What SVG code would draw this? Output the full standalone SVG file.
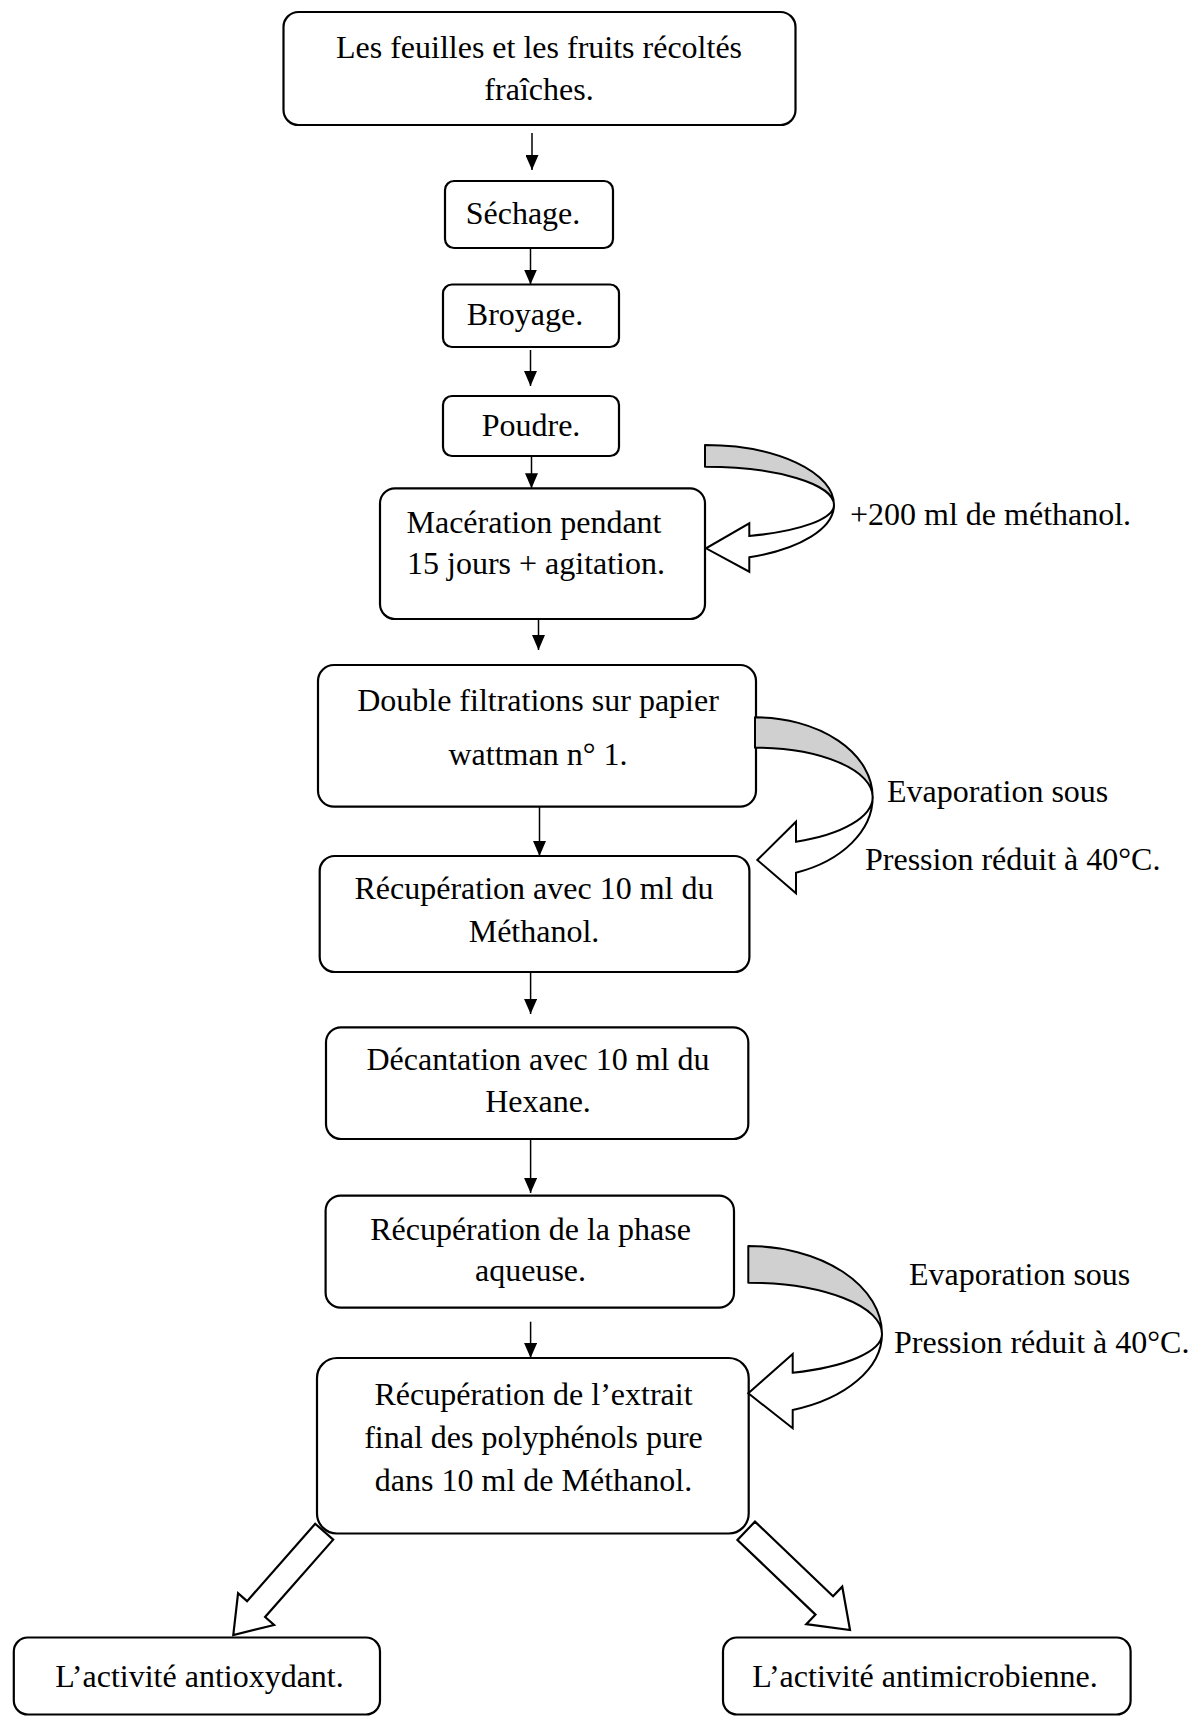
<svg xmlns="http://www.w3.org/2000/svg" width="1198" height="1716" viewBox="0 0 1198 1716">
<defs>
<style>
.box{fill:#fff;stroke:#000;stroke-width:2.2}
.t{font-family:"Liberation Serif","Times New Roman",serif;font-size:32px;fill:#000}
.m{text-anchor:middle}
.ln{stroke:#000;stroke-width:1.5;fill:none;marker-end:url(#ah)}
.band{fill:#d0d0d0;stroke:#000;stroke-width:2;stroke-linejoin:round}
.front{fill:#fff;stroke:#000;stroke-width:2;stroke-linejoin:miter}
.blk{fill:#fff;stroke:#000;stroke-width:2.2;stroke-linejoin:miter}
</style>
<marker id="ah" markerUnits="userSpaceOnUse" markerWidth="15" markerHeight="13" refX="15" refY="6.5" orient="auto"><path d="M0,0 L15,6.5 L0,13 Z" fill="#000"/></marker>
</defs>
<rect width="1198" height="1716" fill="#fff"/>

<g id="n1"><rect class="box" x="283.5" y="12" width="512" height="113" rx="15"/>
<text class="t m" x="539" y="58">Les feuilles et les fruits récoltés</text>
<text class="t m" x="539" y="100">fraîches.</text></g>

<g id="n2"><rect class="box" x="445" y="181" width="168" height="67" rx="9"/>
<text class="t m" x="523" y="224">Séchage.</text></g>

<g id="n3"><rect class="box" x="443" y="284.5" width="176" height="62.5" rx="9"/>
<text class="t m" x="525" y="325">Broyage.</text></g>

<g id="n4"><rect class="box" x="443" y="396" width="176" height="60" rx="9"/>
<text class="t m" x="531" y="436">Poudre.</text></g>

<g id="n5"><rect class="box" x="380" y="488.3" width="325" height="130.7" rx="15"/>
<text class="t m" x="534" y="533">Macération pendant</text>
<text class="t m" x="536" y="574">15 jours + agitation.</text></g>

<g id="n6"><rect class="box" x="318" y="665" width="438" height="141.7" rx="16"/>
<text class="t m" x="538" y="711">Double filtrations sur papier</text>
<text class="t m" x="538" y="765">wattman n° 1.</text></g>

<g id="n7"><rect class="box" x="319.7" y="856" width="429.7" height="116" rx="15"/>
<text class="t m" x="534" y="899">Récupération avec 10 ml du</text>
<text class="t m" x="534" y="942">Méthanol.</text></g>

<g id="n8"><rect class="box" x="326" y="1027.3" width="422.3" height="111.7" rx="15"/>
<text class="t m" x="538" y="1070">Décantation avec 10 ml du</text>
<text class="t m" x="538" y="1112">Hexane.</text></g>

<g id="n9"><rect class="box" x="325.6" y="1195.7" width="408.4" height="112" rx="15"/>
<text class="t m" x="530.5" y="1240">Récupération de la phase</text>
<text class="t m" x="530.5" y="1281">aqueuse.</text></g>

<g id="n10"><rect class="box" x="317" y="1358" width="431.7" height="175.5" rx="20"/>
<text class="t m" x="533.5" y="1405">Récupération de l’extrait</text>
<text class="t m" x="533.5" y="1448">final des polyphénols pure</text>
<text class="t m" x="533.5" y="1491">dans 10 ml de Méthanol.</text></g>

<g id="n11"><rect class="box" x="13.8" y="1637.5" width="366.2" height="77" rx="14"/>
<text class="t m" x="199.5" y="1687">L’activité antioxydant.</text></g>

<g id="n12"><rect class="box" x="723" y="1637.5" width="407.6" height="77" rx="14"/>
<text class="t m" x="925" y="1687">L’activité antimicrobienne.</text></g>

<g id="labels">
<text class="t" x="850" y="525">+200 ml de méthanol.</text>
<text class="t" x="887" y="802">Evaporation sous</text>
<text class="t" x="865" y="870">Pression réduit à 40°C.</text>
<text class="t" x="909" y="1285">Evaporation sous</text>
<text class="t" x="894" y="1353">Pression réduit à 40°C.</text>
</g>

<g id="connectors">
<line class="ln" x1="532" y1="133" x2="532" y2="170"/>
<line class="ln" x1="530.5" y1="248" x2="530.5" y2="284.5"/>
<line class="ln" x1="530.5" y1="350" x2="530.5" y2="386"/>
<line class="ln" x1="531.5" y1="456" x2="531.5" y2="488.3"/>
<line class="ln" x1="538.5" y1="619" x2="538.5" y2="650"/>
<line class="ln" x1="539.5" y1="806.7" x2="539.5" y2="856"/>
<line class="ln" x1="530.6" y1="972" x2="530.6" y2="1014"/>
<line class="ln" x1="530.6" y1="1139" x2="530.6" y2="1193"/>
<line class="ln" x1="530.6" y1="1321.7" x2="530.6" y2="1358"/>

<g id="c1">
<path class="band" d="M705,445 A129,60 0 0 1 834,505 A129,38.3 0 0 0 705,466.7 Z"/>
<path class="front" d="M834,505 A129,55.7 0 0 1 749.3,557.3 L749.3,571.7 L706,548.3 L749.3,523.3 L749.3,536 A129,33 0 0 0 834,505 Z"/>
</g>
<g id="c2">
<path class="band" d="M755,717.3 A117.7,79.7 0 0 1 872.7,797 A117.7,49.3 0 0 0 755,747.7 Z"/>
<path class="front" d="M872.7,797 A117.7,80.7 0 0 1 796,872.7 L796,893.3 L757.3,860 L796,821.7 L796,841.7 A117.7,47.7 0 0 0 872.7,797 Z"/>
</g>
<g id="c3">
<path class="band" d="M748.3,1246 A133.7,88 0 0 1 882,1334 A133.7,51.3 0 0 0 748.3,1282.7 Z"/>
<path class="front" d="M882,1334 A133.7,80.6 0 0 1 792.7,1410 L792.7,1428.3 L748.3,1393.3 L792.7,1354 L792.7,1372.7 A133.7,41 0 0 0 882,1334 Z"/>
</g>

<path class="blk" transform="translate(324.2,1531.7) rotate(131.35)" d="M0,-12 L103.1,-12 L103.1,-24 L137.6,0 L103.1,24 L103.1,12 L0,12 Z"/>
<path class="blk" transform="translate(746.2,1530.8) rotate(43.7)" d="M0,-12.7 L108,-12.7 L108,-26 L143.6,0 L108,26 L108,12.7 L0,12.7 Z"/>
</g>
</svg>
